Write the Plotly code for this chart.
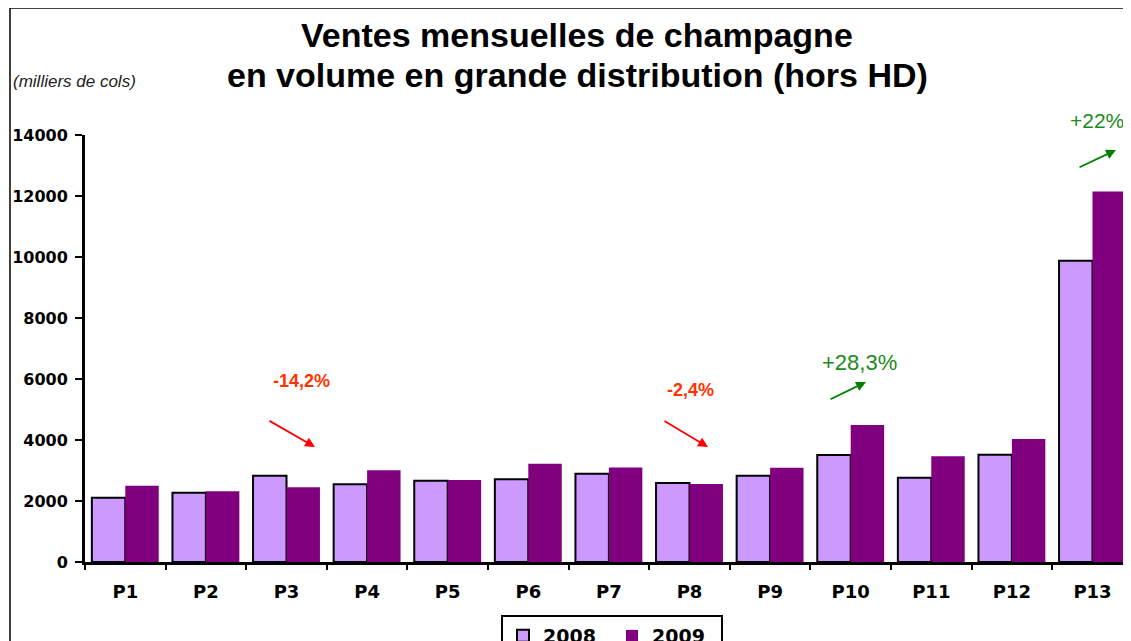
import plotly.graph_objects as go

categories = ["P1", "P2", "P3", "P4", "P5", "P6", "P7", "P8", "P9", "P10", "P11", "P12", "P13"]
sales_2008 = [2110, 2270, 2830, 2550, 2660, 2710, 2890, 2590, 2830, 3510, 2760, 3520, 9880]
sales_2009 = [2500, 2320, 2450, 3010, 2690, 3220, 3100, 2560, 3090, 4490, 3470, 4030, 12150]
y_ticks = [0, 2000, 4000, 6000, 8000, 10000, 12000, 14000]

OFF = 8  # page body margin
W, H = 1131 - OFF, 641 - OFF
# plot area in screen pixels: x 85..1131, y 135..562
L, T = 85 - OFF, 135 - OFF
R, B = 0, H - (562 - OFF)
PW, PH = W - L - R, H - T - B


def px(x):
    return (x - OFF - L) / PW


def py(y):
    return (H - B - (y - OFF)) / PH


fig = go.Figure()
fig.add_trace(go.Bar(
    x=categories, y=sales_2008, name="2008",
    marker=dict(color="#CC99FF", line=dict(color="black", width=2)),
))
fig.add_trace(go.Bar(
    x=categories, y=sales_2009, name="2009",
    marker=dict(color="#800080", line=dict(color="#800080", width=0)),
))

annotations = [
    dict(text="<b>Ventes mensuelles de champagne</b>", x=px(577), y=py(35),
         font=dict(family="Liberation Sans, Arial", size=34, color="black")),
    dict(text="<b>en volume en grande distribution (hors HD)</b>", x=px(577), y=py(75),
         font=dict(family="Liberation Sans, Arial", size=34, color="black")),
    dict(text="<i>(milliers de cols)</i>", x=px(11), y=py(81), xanchor="left",
         font=dict(family="Liberation Sans, Arial", size=17, color="#222222")),
    dict(text="<b>-14,2%</b>", x=px(301), y=py(381),
         font=dict(family="Liberation Sans, Arial", size=18, color="#FF3300")),
    dict(text="<b>-2,4%</b>", x=px(690), y=py(390),
         font=dict(family="Liberation Sans, Arial", size=18, color="#FF3300")),
    dict(text="+28,3%", x=px(859), y=py(362),
         font=dict(family="Liberation Sans, Arial", size=22, color="#1A8A1A")),
    dict(text="+22%", x=px(1097), y=py(121),
         font=dict(family="Liberation Sans, Arial", size=21, color="#1A8A1A")),
]
for a in annotations:
    a.setdefault("xanchor", "center")
    a.update(xref="paper", yref="paper", yanchor="middle", showarrow=False)

arrows = [
    (315, 447, -47, -27, "#FF0000"),
    (708, 447, -45, -27, "#FF0000"),
    (866, 382, -37, 18, "#008000"),
    (1116, 150, -38, 18, "#008000"),
]
for hx, hy, ax, ay, col in arrows:
    annotations.append(dict(
        xref="paper", yref="paper", x=px(hx), y=py(hy), ax=ax, ay=ay, text="",
        showarrow=True, arrowhead=2, arrowsize=1.1, arrowwidth=1.8, arrowcolor=col,
    ))

shapes = [
    dict(type="line", xref="paper", yref="paper", x0=px(10), x1=px(10), y0=py(8), y1=py(660),
         line=dict(color="black", width=1.5)),
    dict(type="line", xref="paper", yref="paper", x0=px(10), x1=px(1140), y0=py(8), y1=py(8),
         line=dict(color="black", width=1.5)),
]

fig.update_layout(
    width=W, height=H,
    margin=dict(l=L, r=R, t=T, b=B, autoexpand=False),
    paper_bgcolor="white", plot_bgcolor="white",
    barmode="group", bargap=0.17, bargroupgap=0,
    showlegend=True,
    legend=dict(
        orientation="h", x=px(612), xanchor="center", y=py(615), yanchor="top",
        bordercolor="black", borderwidth=2,
        font=dict(family="DejaVu Sans", size=19, color="black", weight="bold"),
        itemwidth=30, entrywidth=64,
    ),
    annotations=annotations,
    shapes=shapes,
)
fig.update_xaxes(
    type="category", range=[-0.5, -0.5 + PW / 80.6],
    showline=True, linecolor="black", linewidth=2.5,
    ticks="outside", tickson="boundaries", ticklen=5, tickwidth=2, tickcolor="black",
    tickfont=dict(family="DejaVu Sans", size=18, color="black", weight="bold"),
    ticklabelstandoff=12,
    showgrid=False, zeroline=False,
)
fig.update_yaxes(
    range=[0, 14000], tickvals=y_ticks, ticktext=[str(v) for v in y_ticks],
    showline=True, linecolor="black", linewidth=3,
    ticks="outside", ticklen=7, tickwidth=2, tickcolor="black",
    tickfont=dict(family="DejaVu Sans", size=16, color="black", weight="bold"),
    ticklabelstandoff=4,
    showgrid=False, zeroline=False,
)

fig.write_html("out.html")
